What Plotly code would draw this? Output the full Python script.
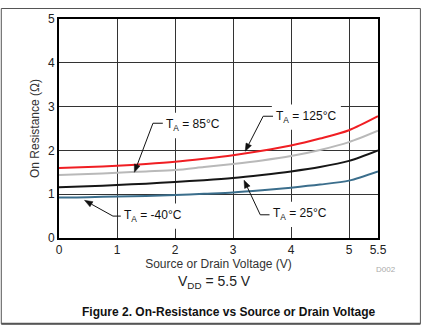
import math
import plotly.graph_objects as go

# Source/drain voltage sweep (V)
voltage = [0, 0.5, 1, 1.5, 2, 2.5, 3, 3.5, 4, 4.5, 5, 5.5]

# On-resistance (ohm) at each ambient temperature
r_125 = [1.60, 1.62, 1.65, 1.69, 1.74, 1.81, 1.89, 1.99, 2.11, 2.27, 2.46, 2.78]
r_85 = [1.44, 1.46, 1.49, 1.52, 1.55, 1.62, 1.69, 1.77, 1.87, 2.01, 2.19, 2.45]
r_25 = [1.16, 1.18, 1.21, 1.24, 1.28, 1.32, 1.37, 1.44, 1.52, 1.62, 1.76, 2.00]
r_m40 = [0.925, 0.93, 0.95, 0.96, 0.98, 1.01, 1.04, 1.09, 1.15, 1.22, 1.31, 1.52]

x_ticks = [0, 1, 2, 3, 4, 5, 5.5]
x_tick_text = ["0", "1", "2", "3", "4", "5", "5.5"]
y_ticks = [0, 1, 2, 3, 4, 5]

series = [
    ("T<sub>A</sub> = 125°C", r_125, "#f01e23"),
    ("T<sub>A</sub> = 85°C", r_85, "#b9b9b9"),
    ("T<sub>A</sub> = 25°C", r_25, "#161616"),
    ("T<sub>A</sub> = -40°C", r_m40, "#3b6e8c"),
]

FONT = "Liberation Sans, Arial, sans-serif"
W, H = 423, 328
MARGIN = dict(l=59.3, r=45.3, t=12.3, b=90.3)
X_RANGE = [0, 5.5]
Y_RANGE = [0, 5]

# pixels per data unit, used to shape the arrowheads
px_x = (W - MARGIN["l"] - MARGIN["r"]) / (X_RANGE[1] - X_RANGE[0])
px_y = (H - MARGIN["t"] - MARGIN["b"]) / (Y_RANGE[1] - Y_RANGE[0])

fig = go.Figure()
for name, vals, color in series:
    fig.add_trace(go.Scatter(
        x=voltage, y=vals, mode="lines", name=name,
        line=dict(color=color, width=2, shape="spline", smoothing=0.8),
        showlegend=False, hoverinfo="skip",
    ))

# Callout labels: (text, text-left x, text y, text width in x units,
#                  leader corner x, corner y, tip x, tip y)
callouts = [
    ("T<sub>A</sub> = 85°C", 1.83, 2.57, 0.98, 1.62, 2.62, 1.30, 1.50),
    ("T<sub>A</sub> = 125°C", 3.73, 2.76, 1.07, 3.52, 2.78, 3.21, 1.98),
    ("T<sub>A</sub> = -40°C", 1.105, 0.50, 1.07, 0.93, 0.50, 0.44, 0.86),
    ("T<sub>A</sub> = 25°C", 3.67, 0.54, 0.98, 3.47, 0.53, 3.19, 1.32),
]

annotations = []
shapes = []
HEAD_LEN, HEAD_HALF = 8.0, 3.0
for text, tx, ty, tw, cx, cy, px, py in callouts:
    # white box that interrupts the grid behind the label
    shapes.append(dict(
        type="rect", xref="x", yref="y", x0=tx - 0.06, x1=tx + tw + 0.06,
        y0=ty - 0.29, y1=ty + 0.29, fillcolor="white", line=dict(width=0),
        layer="between",
    ))
    annotations.append(dict(
        x=tx, y=ty, xref="x", yref="y", text=text, showarrow=False,
        xanchor="left", yanchor="middle", borderpad=0,
        font=dict(family=FONT, size=12, color="#111"),
    ))
    # short horizontal leader from the label
    shapes.append(dict(
        type="line", xref="x", yref="y", x0=cx, y0=cy, x1=tx - 0.04, y1=cy,
        line=dict(color="#111", width=1), layer="above",
    ))
    # diagonal leader to the curve, ending in a filled arrowhead
    dxp, dyp = (px - cx) * px_x, (py - cy) * px_y
    n = math.hypot(dxp, dyp)
    ux, uy = dxp / n, dyp / n
    bx, by = -ux * HEAD_LEN, -uy * HEAD_LEN
    lx, ly = bx - uy * HEAD_HALF, by + ux * HEAD_HALF
    rx, ry = bx + uy * HEAD_HALF, by - ux * HEAD_HALF
    shapes.append(dict(
        type="line", xref="x", yref="y", x0=cx, y0=cy,
        x1=px + bx / px_x, y1=py + by / px_y,
        line=dict(color="#111", width=1), layer="above",
    ))
    path = "M {:.4f},{:.4f} L {:.4f},{:.4f} L {:.4f},{:.4f} Z".format(
        px, py, px + lx / px_x, py + ly / px_y, px + rx / px_x, py + ry / px_y)
    shapes.append(dict(
        type="path", xref="x", yref="y", path=path,
        fillcolor="#111", line=dict(color="#111", width=0.5), layer="above",
    ))

# Notes and caption below the chart
annotations += [
    dict(x=1.026, y=-0.146, xref="paper", yref="paper", text="D002",
         showarrow=False, xanchor="center", yanchor="middle",
         font=dict(family=FONT, size=8, color="#aaaaaa")),
    dict(x=0.486, y=-0.20, xref="paper", yref="paper", text="V<sub>DD</sub> = 5.5 V",
         showarrow=False, xanchor="center", yanchor="middle",
         font=dict(family=FONT, size=14, color="#222")),
    dict(x=0.5327, y=-0.34, xref="paper", yref="paper",
         text="<b>Figure 2. On-Resistance vs Source or Drain Voltage</b>",
         showarrow=False, xanchor="center", yanchor="middle",
         font=dict(family=FONT, size=12, color="#111")),
]

# Page frame around the figure
shapes += [
    dict(type="rect", xref="paper", yref="paper", x0=-0.1809, x1=1.1329, y0=-0.3917, y1=1.0479,
         line=dict(color="#555", width=1), layer="above"),
    dict(type="line", xref="paper", yref="paper", x0=-0.1809, x1=1.1329, y0=-0.3917, y1=-0.3917,
         line=dict(color="#555", width=2), layer="above"),
]

fig.update_layout(
    width=W, height=H,
    margin=MARGIN,
    paper_bgcolor="white", plot_bgcolor="white",
    font=dict(family=FONT, size=12, color="#222"),
    annotations=annotations, shapes=shapes,
    xaxis=dict(
        range=X_RANGE, tickvals=x_ticks, ticktext=x_tick_text,
        showgrid=True, gridcolor="#333", gridwidth=1, zeroline=False,
        showline=True, linecolor="#000", linewidth=2, mirror=True, ticks="",
        tickfont=dict(family=FONT, size=12, color="#222"),
        title=dict(text="Source or Drain Voltage (V)", standoff=3,
                   font=dict(family=FONT, size=12, color="#333")),
    ),
    yaxis=dict(
        range=Y_RANGE, tickvals=y_ticks,
        showgrid=True, gridcolor="#333", gridwidth=1, zeroline=False,
        showline=True, linecolor="#000", linewidth=2, mirror=True, ticks="",
        tickfont=dict(family=FONT, size=12, color="#222"),
        title=dict(text="On Resistance (Ω)", standoff=6,
                   font=dict(family=FONT, size=12, color="#333")),
    ),
)

fig.write_html("out.html")
